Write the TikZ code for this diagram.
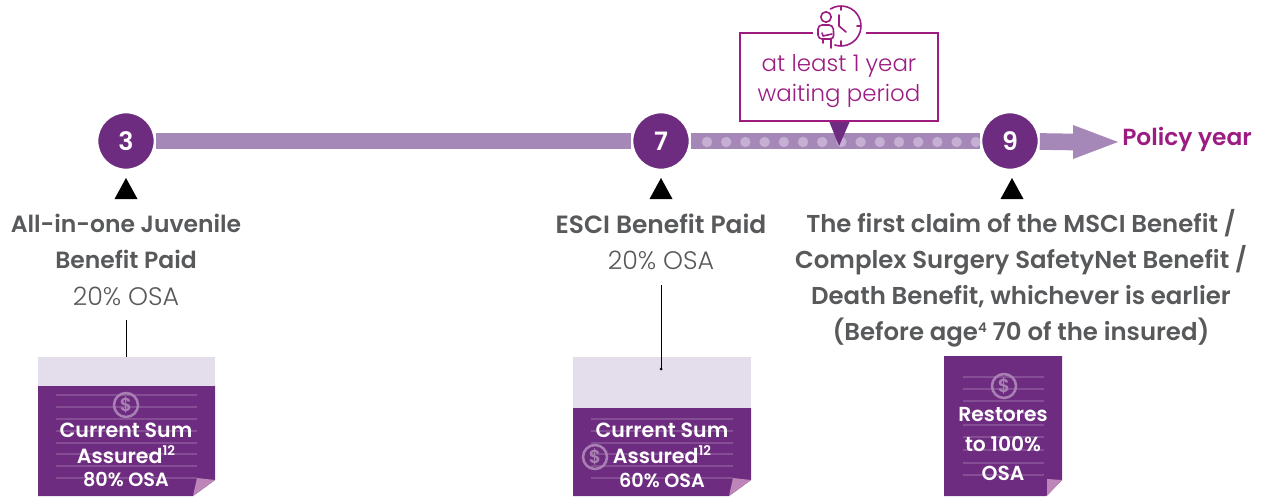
\documentclass[tikz,border=0pt]{standalone}
\usepackage{xcolor}
\usepackage{fontspec}
\usepackage{tikz}
\usetikzlibrary{calc,backgrounds}
\setmainfont{Poppins}[BoldFont={Poppins SemiBold}]
\newfontface\light{Poppins Light}
\definecolor{deeppurple}{HTML}{6E2C80}
\definecolor{barpurple}{HTML}{A688B8}
\definecolor{dotpurple}{HTML}{C5AFD2}
\definecolor{palepurple}{HTML}{E4DDEC}
\definecolor{foldpurple}{HTML}{BE86B8}
\definecolor{magentatext}{HTML}{9C1C82}
\definecolor{greytext}{HTML}{58595B}
\tikzstyle{yearcircle} = [circle, draw=white, line width=1.5pt, fill=deeppurple, minimum size=43pt, inner sep=0pt, text=white, font=\fontsize{19}{24}\selectfont\bfseries]
\tikzstyle{marker} = [fill=black]
\tikzstyle{headtext} = [align=center, text=greytext, font=\fontsize{18.3}{27}\selectfont\bfseries, inner sep=0pt]
\tikzstyle{osatext} = [text=greytext, font=\fontsize{19}{27}\selectfont\light, inner sep=0pt]
\tikzstyle{notetext} = [align=center, text=white, inner sep=0pt, font=\fontsize{15.4}{19.5}\selectfont\bfseries]
\tikzstyle{percenttext} = [notetext, font=\fontsize{14.4}{17}\selectfont\bfseries]
\tikzstyle{notelines} = [draw=white!16!deeppurple, line width=1.3pt]
\tikzstyle{bar} = [draw=barpurple, line width=12.5pt]
\tikzstyle{iconline} = [draw=magentatext, line width=1.2pt, line cap=round, line join=round]

% small raised figures
\newcommand{\notesup}[1]{\raisebox{5.5pt}{\fontsize{10}{10}\selectfont #1}}
% one note sheet: left, right, top of the purple part
\newcommand{\notesheet}[4]{%
	\fill[palepurple] (#1,357) rectangle (#2,#3);
	\fill[deeppurple] (#1,#3) -- (#2,#3) -- (#2,480) -- ($(#2,496)+(-22,0)$) -- (#1,496) -- cycle;
	\fill[foldpurple] (#2,480) -- ($(#2,478)+(-18,0)$) -- ($(#2,496)+(-22,0)$) -- cycle;
	\foreach \liney in {#4}
		\draw[notelines] ($(#1,\liney)+(18,0)$) -- ($(#2,\liney)+(-18,0)$);
}
% dollar coin
\newcommand{\dollarcoin}[3]{%
	\node[circle, draw=white!40!deeppurple, line width=1.9pt, minimum size=18pt, inner sep=0pt, text=white!40!deeppurple, font=\fontsize{14}{14}\selectfont\bfseries] (#1) at (#2,#3) {\$};
}

\begin{document}
\begin{tikzpicture}[x=0.75pt, y=-0.75pt]
	\useasboundingbox (0,0) rectangle (1262,496);

	% timeline
	\node [yearcircle] (three) at (126,141) {3};
	\node [yearcircle] (seven) at (661,141) {7};
	\node [yearcircle] (nine) at (1010,141) {9};
	\coordinate (tip) at (1118,142);
	\coordinate (shaftend) at (1073,142);
	\begin{scope}[on background layer]
		\draw[bar] (three) -- (seven);
		\draw[bar] (seven) -- (nine);
		\foreach \dotx in {0,...,15}
			\fill[dotpurple] (707+19.2*\dotx,142) circle (5.2);
		\draw[bar] (nine) -- (shaftend);
		\fill[barpurple] (1073,125) -- (tip) -- (1073,159) -- cycle;
	\end{scope}
	\node [anchor=west, inner sep=0pt, text=magentatext, font=\fontsize{17.5}{22}\selectfont\bfseries] (policy) at (1122,139) {Policy year};

	% waiting period box
	\fill[deeppurple] (829,121) -- (850,121) -- (839,146) -- cycle;
	\node [draw=magentatext, line width=1.5pt, minimum width=148pt, minimum height=66pt, inner sep=0pt, fill=white] (waiting) at (839,77) {};
	\node [inner sep=0pt, align=center, text=magentatext, font=\fontsize{17.2}{22.5}\selectfont\light] (waitingtext) at (839,81) {at least 1 year\\waiting period};
	\fill[white] (813,30) rectangle (866,36);
	\draw[iconline] (834.8,45) arc (108:-122:20);
	\draw[iconline] (841,6) -- (841,10) (841,41) -- (841,46) (857,26) -- (861,26);
	\draw[iconline] (839,15) -- (839,26) -- (846,32);
	\fill[white] (815,10) rectangle (836,41);
	\draw[iconline] (826,17) circle (5.2);
	\draw[iconline, rounded corners=3pt] (818,39) -- (818,25) -- (833,25) -- (834,39) -- cycle;
	\draw[iconline] (822,33) -- (823,36) -- (832,34) (823,39) -- (823,43) (831,39) -- (831,48);

	% markers
	\fill[marker] (126,178) -- (137.5,199) -- (114.5,199) -- cycle;
	\fill[marker] (661,178) -- (672.5,199) -- (649.5,199) -- cycle;
	\fill[marker] (1012,178) -- (1023.5,199) -- (1000.5,199) -- cycle;

	% texts under the markers
	\node [headtext, font=\fontsize{17.6}{27}\selectfont\bfseries] (juvenile) at (126,241.5) {All-in-one Juvenile\\Benefit Paid};
	\node [osatext] (osaone) at (126,296) {20\% OSA};
	\node [headtext, font=\fontsize{18.7}{27}\selectfont\bfseries] (esci) at (661,224) {ESCI Benefit Paid};
	\node [osatext] (osatwo) at (661,260) {20\% OSA};
	\node [headtext] (claim) at (1021,278) {The first claim of the MSCI Benefit /\\Complex Surgery SafetyNet Benefit /\\Death Benefit, whichever is earlier\\(Before age\notesup{4} 70 of the insured)};

	% sheets
	\notesheet{38}{215}{386}{395,407,419,431,443,454,466,478}
	\notesheet{573}{751}{408}{419,431,443,454,466,478}
	\fill[deeppurple] (944,356) -- (1062,356) -- (1062,480) -- (1046,496) -- (944,496) -- cycle;
	\fill[foldpurple] (1062,480) -- (1047,479) -- (1047,496) -- cycle;
	\foreach \liney in {377,389,401,413,425,437,450,463,475}
		\draw[notelines] (963,\liney) -- (1044,\liney);
	\dollarcoin{coinone}{126}{405}
	\dollarcoin{cointwo}{595}{457}
	\dollarcoin{cointhree}{1004}{386}
	\node [notetext] (sumone) at (126,443) {Current Sum\\Assured\notesup{12}};
	\node [percenttext] (percentone) at (126,480) {80\% OSA};
	\node [notetext] (sumtwo) at (662,443) {Current Sum\\Assured\notesup{12}};
	\node [percenttext] (percenttwo) at (662,480) {60\% OSA};
	\node [notetext, font=\fontsize{15.2}{22}\selectfont\bfseries] (restores) at (1003,444) {Restores\\to 100\%\\OSA};

	% connectors
	\draw[black, line width=0.7pt] (osaone) ++(0,24) coordinate (startone) -- (126,357) coordinate (endone);
	\coordinate (endtwo) at (661,369);
	\draw[black, line width=0.7pt] (661,285) coordinate (starttwo) -- (endtwo);
	\fill[black] (endtwo) circle (1.5);
\end{tikzpicture}
\end{document}
